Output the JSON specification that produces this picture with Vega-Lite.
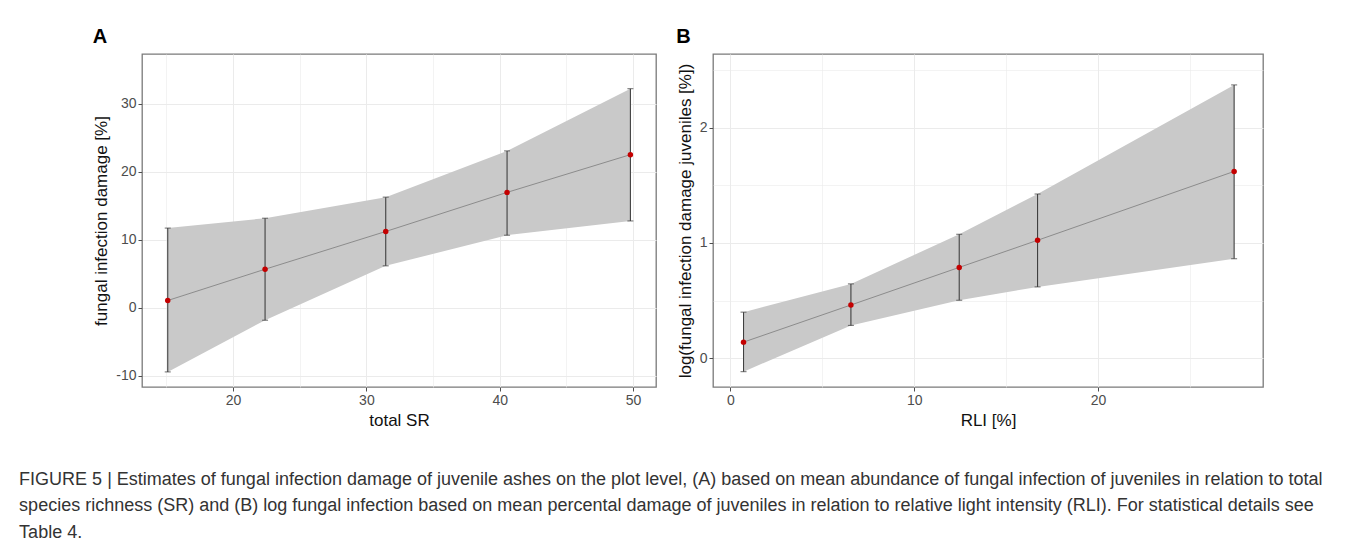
{
  "$schema": "https://vega.github.io/schema/vega-lite/v6.json",
  "background": "white",
  "padding": {"left": 19, "top": 26, "right": 10, "bottom": 4},
  "datasets": {
    "a": [
      {"SR": 15.1, "fit": 1.1, "lo": -9.4, "hi": 11.75},
      {"SR": 22.4, "fit": 5.7, "lo": -1.8, "hi": 13.2},
      {"SR": 31.45, "fit": 11.25, "lo": 6.2, "hi": 16.3},
      {"SR": 40.55, "fit": 17.0, "lo": 10.7, "hi": 23.1},
      {"SR": 49.8, "fit": 22.55, "lo": 12.8, "hi": 32.25}
    ],
    "b": [
      {"RLI": 0.72, "fit": 0.14, "lo": -0.116, "hi": 0.4},
      {"RLI": 6.56, "fit": 0.462, "lo": 0.285, "hi": 0.645},
      {"RLI": 12.45, "fit": 0.788, "lo": 0.503, "hi": 1.075},
      {"RLI": 16.71, "fit": 1.023, "lo": 0.619, "hi": 1.424},
      {"RLI": 27.4, "fit": 1.62, "lo": 0.863, "hi": 2.37}
    ],
    "pa": [{"label": "Pr(>F) = 0.019 *"}],
    "pb": [{"label": "Pr(>F) = 0.002 **"}]
  },
  "title": {
    "text": [
      "FIGURE 5 | Estimates of fungal infection damage of juvenile ashes on the plot level, (A) based on mean abundance of fungal infection of juveniles in relation to total",
      "species richness (SR) and (B) log fungal infection based on mean percental damage of juveniles in relation to relative light intensity (RLI). For statistical details see",
      "Table 4."
    ],
    "orient": "bottom",
    "anchor": "start",
    "frame": "bounds",
    "dx": -73,
    "offset": 42,
    "font": "Liberation Sans",
    "fontSize": 18,
    "fontWeight": "normal",
    "color": "#333333",
    "lineHeight": 26.5
  },
  "spacing": 18,
  "hconcat": [
    {
      "width": 514,
      "height": 333,
      "title": {"text": "A", "anchor": "start", "frame": "bounds", "fontSize": 20, "fontWeight": "bold", "offset": 7, "color": "#000000"},
      "encoding": {
        "x": {
          "field": "SR", "type": "quantitative",
          "scale": {"domain": [13.17, 51.72], "nice": false, "zero": false},
          "axis": {
            "title": "total SR",
            "values": [15, 20, 25, 30, 35, 40, 45, 50],
            "labelExpr": "datum.value % 10 === 0 ? datum.label : ''",
            "tickOpacity": {"condition": {"test": "datum.value % 10 === 0", "value": 1}, "value": 0},
            "gridWidth": {"condition": {"test": "datum.value % 10 === 0", "value": 1}, "value": 0.6},
            "titlePadding": 5
          }
        }
      },
      "layer": [
        {
          "data": {"name": "a"},
          "mark": {"type": "area", "color": "#c9c9c9", "opacity": 1},
          "encoding": {
            "y": {
              "field": "lo", "type": "quantitative",
              "scale": {"domain": [-11.62, 37.35], "nice": false, "zero": false},
              "title": "fungal infection damage [%]",
              "axis": {
                "values": [-10, -5, 0, 5, 10, 15, 20, 25, 30, 35],
                "labelExpr": "datum.value % 10 === 0 ? replace(datum.label, '\u2212', '-') : ''",
                "tickOpacity": {"condition": {"test": "datum.value % 10 === 0", "value": 1}, "value": 0},
                "gridWidth": {"condition": {"test": "datum.value % 10 === 0", "value": 1}, "value": 0.6},
                "titlePadding": 5
              }
            },
            "y2": {"field": "hi"}
          }
        },
        {
          "data": {"name": "a"},
          "mark": {"type": "line", "color": "#8c8c8c", "strokeWidth": 1},
          "encoding": {"y": {"field": "fit", "type": "quantitative", "title": "fungal infection damage [%]"}}
        },
        {
          "data": {"name": "a"},
          "mark": {"type": "rule", "color": "#404040", "strokeWidth": 1.1},
          "encoding": {"y": {"field": "lo", "type": "quantitative", "title": "fungal infection damage [%]"}, "y2": {"field": "hi"}}
        },
        {
          "data": {"name": "a"},
          "mark": {"type": "tick", "orient": "horizontal", "color": "#404040", "size": 6, "thickness": 1.1},
          "encoding": {"y": {"field": "lo", "type": "quantitative", "title": "fungal infection damage [%]"}}
        },
        {
          "data": {"name": "a"},
          "mark": {"type": "tick", "orient": "horizontal", "color": "#404040", "size": 6, "thickness": 1.1},
          "encoding": {"y": {"field": "hi", "type": "quantitative", "title": "fungal infection damage [%]"}}
        },
        {
          "data": {"name": "a"},
          "mark": {"type": "point", "filled": true, "color": "#c40000", "size": 30, "opacity": 1},
          "encoding": {"y": {"field": "fit", "type": "quantitative", "title": "fungal infection damage [%]"}}
        },
        {
          "data": {"name": "pa"},
          "mark": {"type": "text", "align": "right", "baseline": "middle", "fontSize": 9.5, "font": "Liberation Sans", "color": "#333333"},
          "encoding": {
            "x": {"datum": 50.4, "type": "quantitative"},
            "y": {"datum": 34.85, "type": "quantitative"},
            "text": {"field": "label"}
          }
        }
      ]
    },
    {
      "width": 550,
      "height": 333,
      "title": {"text": "B", "anchor": "start", "frame": "bounds", "fontSize": 20, "fontWeight": "bold", "offset": 7, "color": "#000000"},
      "encoding": {
        "x": {
          "field": "RLI", "type": "quantitative",
          "scale": {"domain": [-0.94, 28.97], "nice": false, "zero": false},
          "axis": {
            "title": "RLI [%]",
            "values": [0, 5, 10, 15, 20, 25],
            "labelExpr": "datum.value % 10 === 0 ? datum.label : ''",
            "tickOpacity": {"condition": {"test": "datum.value % 10 === 0", "value": 1}, "value": 0},
            "gridWidth": {"condition": {"test": "datum.value % 10 === 0", "value": 1}, "value": 0.6},
            "titlePadding": 5
          }
        }
      },
      "layer": [
        {
          "data": {"name": "b"},
          "mark": {"type": "area", "color": "#c9c9c9", "opacity": 1},
          "encoding": {
            "y": {
              "field": "lo", "type": "quantitative",
              "scale": {"domain": [-0.249, 2.638], "nice": false, "zero": false},
              "title": "log(fungal infection damage juveniles [%])",
              "axis": {
                "values": [0, 0.5, 1, 1.5, 2, 2.5],
                "labelExpr": "datum.value % 1 === 0 ? format(datum.value, 'd') : ''",
                "tickOpacity": {"condition": {"test": "datum.value % 1 === 0", "value": 1}, "value": 0},
                "gridWidth": {"condition": {"test": "datum.value % 1 === 0", "value": 1}, "value": 0.6},
                "titlePadding": 5
              }
            },
            "y2": {"field": "hi"}
          }
        },
        {
          "data": {"name": "b"},
          "mark": {"type": "line", "color": "#8c8c8c", "strokeWidth": 1},
          "encoding": {"y": {"field": "fit", "type": "quantitative", "title": "log(fungal infection damage juveniles [%])"}}
        },
        {
          "data": {"name": "b"},
          "mark": {"type": "rule", "color": "#404040", "strokeWidth": 1.1},
          "encoding": {"y": {"field": "lo", "type": "quantitative", "title": "log(fungal infection damage juveniles [%])"}, "y2": {"field": "hi"}}
        },
        {
          "data": {"name": "b"},
          "mark": {"type": "tick", "orient": "horizontal", "color": "#404040", "size": 6, "thickness": 1.1},
          "encoding": {"y": {"field": "lo", "type": "quantitative", "title": "log(fungal infection damage juveniles [%])"}}
        },
        {
          "data": {"name": "b"},
          "mark": {"type": "tick", "orient": "horizontal", "color": "#404040", "size": 6, "thickness": 1.1},
          "encoding": {"y": {"field": "hi", "type": "quantitative", "title": "log(fungal infection damage juveniles [%])"}}
        },
        {
          "data": {"name": "b"},
          "mark": {"type": "point", "filled": true, "color": "#c40000", "size": 30, "opacity": 1},
          "encoding": {"y": {"field": "fit", "type": "quantitative", "title": "log(fungal infection damage juveniles [%])"}}
        },
        {
          "data": {"name": "pb"},
          "mark": {"type": "text", "align": "right", "baseline": "middle", "fontSize": 9.5, "font": "Liberation Sans", "color": "#333333"},
          "encoding": {
            "x": {"datum": 28.04, "type": "quantitative"},
            "y": {"datum": 2.5, "type": "quantitative"},
            "text": {"field": "label"}
          }
        }
      ]
    }
  ],
  "config": {
    "font": "Liberation Sans",
    "view": {"stroke": "#7a7a7a", "strokeWidth": 1.3},
    "axis": {
      "domain": false,
      "grid": true,
      "gridColor": "#ebebeb",
      "labelFont": "Liberation Sans",
      "labelFontSize": 14,
      "labelColor": "#4d4d4d",
      "labelPadding": 2,
      "labelOverlap": false,
      "labelFlush": false,
      "tickColor": "#4d4d4d",
      "tickSize": 4,
      "titleFont": "Liberation Sans",
      "titleFontSize": 17,
      "titleFontWeight": "normal",
      "titleColor": "#111111"
    }
  }
}
